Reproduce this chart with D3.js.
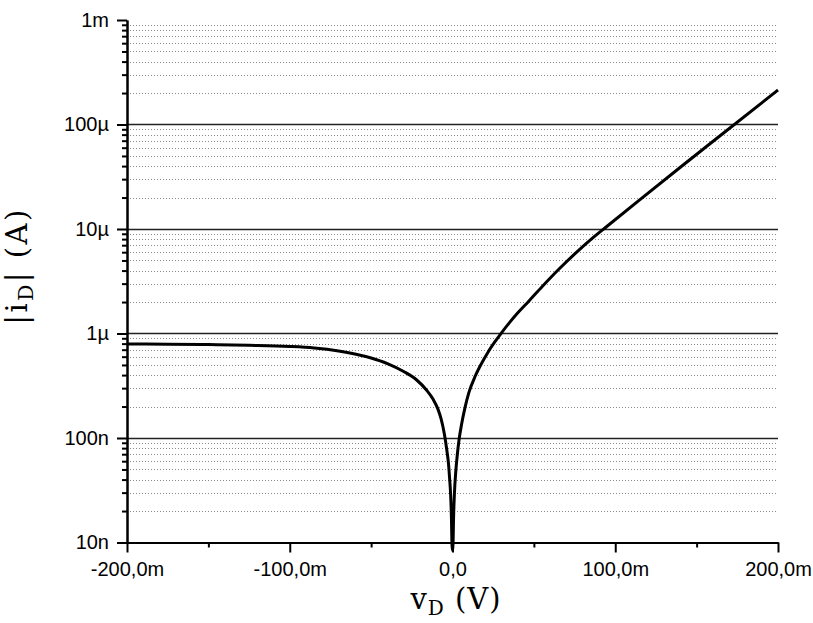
<!DOCTYPE html>
<html>
<head>
<meta charset="utf-8">
<script src="https://cdn.jsdelivr.net/npm/d3@7"></script>
<style>
  body { margin: 0; background: #fff; }
  svg { display: block; }
</style>
</head>
<body>
<div id="chart"></div>
<script>
// diode sweep: voltage (V) and |current| (A)
const vD = [-0.200, -0.175, -0.150, -0.125, -0.100, -0.085, -0.070, -0.060, -0.050, -0.040,
            -0.030, -0.022, -0.016, -0.012, -0.009, -0.007, -0.005, -0.0035, -0.0025, -0.0018,
            -0.0012, -0.0007, -0.0003, 0.0,
            0.0003, 0.0007, 0.0012, 0.002, 0.003, 0.004, 0.0055, 0.0075, 0.010, 0.014,
            0.018, 0.022, 0.026, 0.030, 0.035, 0.040, 0.047, 0.055, 0.065, 0.078,
            0.086, 0.0944, 0.115, 0.140, 0.165, 0.200];
const iD = [7.93e-7, 7.90e-7, 7.83e-7, 7.71e-7, 7.51e-7, 7.26e-7, 6.80e-7, 6.37e-7, 5.83e-7, 5.16e-7,
            4.33e-7, 3.59e-7, 2.88e-7, 2.36e-7, 1.90e-7, 1.52e-7, 1.09e-7, 7.68e-8, 5.77e-8, 4.14e-8,
            2.98e-8, 1.83e-8, 9.5e-9, 8.4e-9,
            9.5e-9, 1.83e-8, 2.98e-8, 4.73e-8, 7.03e-8, 9.57e-8, 1.33e-7, 1.90e-7, 2.70e-7, 3.92e-7,
            5.22e-7, 6.70e-7, 8.30e-7, 1.01e-6, 1.27e-6, 1.57e-6, 2.05e-6, 2.80e-6, 4.07e-6, 6.35e-6,
            8.17e-6, 1.045e-5, 1.90e-5, 3.90e-5, 7.93e-5, 2.14e-4];

const xTicks = [-0.2, -0.1, 0, 0.1, 0.2];
const xTickLabels = ['-200,0m', '-100,0m', '0,0', '100,0m', '200,0m'];
const xMinorTicks = [-0.15, -0.05, 0.05, 0.15];
const yTicks = [1e-8, 1e-7, 1e-6, 1e-5, 1e-4, 1e-3];
const yTickLabels = ['10n', '100n', '1µ', '10µ', '100µ', '1m'];

const width = 813, height = 623;
const plotL = 127, plotR = 778, plotT = 20, plotB = 542.5;

let x = d3.scaleLinear().domain([-0.2, 0.2]).range([plotL, plotR]);
let y = d3.scaleLog().domain([1e-8, 1e-3]).range([plotB, plotT]);

// minor decades 2..9
let yMinor = [];
yTicks.slice(0, -1).forEach(function(d) {
  for (let k = 2; k <= 9; k++) yMinor.push(d * k);
});

let svg = d3.select('#chart')
  .append('svg')
    .attr('width', width)
    .attr('height', height);

// grid
svg.append('g')
  .selectAll('line')
  .data(yMinor)
  .enter()
  .append('line')
    .attr('x1', plotL).attr('x2', plotR)
    .attr('y1', function(d) { return Math.round(y(d)) + 0.5 })
    .attr('y2', function(d) { return Math.round(y(d)) + 0.5 })
    .attr('stroke', '#8a8a8a')
    .attr('stroke-width', 1)
    .attr('stroke-dasharray', '1,2');

svg.append('g')
  .selectAll('line')
  .data(yTicks.slice(1, -1))
  .enter()
  .append('line')
    .attr('x1', plotL).attr('x2', plotR)
    .attr('y1', function(d) { return Math.round(y(d)) + 0.5 })
    .attr('y2', function(d) { return Math.round(y(d)) + 0.5 })
    .attr('stroke', '#222')
    .attr('stroke-width', 1.3);

// curve
let line = d3.line()
  .x(function(d) { return x(d[0]) })
  .y(function(d) { return y(d[1]) })
  .curve(d3.curveMonotoneX);

svg.append('path')
  .datum(vD.map(function(v, i) { return [v, iD[i]] }))
  .attr('d', line)
  .attr('fill', 'none')
  .attr('stroke', '#000')
  .attr('stroke-width', 3)
  .attr('stroke-linejoin', 'round');

// axes
function styleAxis(g) {
  g.selectAll('.domain').attr('stroke', '#000').attr('stroke-width', 2);
  g.selectAll('.tick line').attr('stroke', '#000').attr('stroke-width', 2);
  g.selectAll('text')
    .attr('fill', '#000')
    .style('font-family', '"Liberation Sans", Arial, sans-serif')
    .style('font-size', '20px');
}

svg.append('g')
  .attr('transform', `translate(${plotL},0)`)
  .call(d3.axisLeft(y).tickValues(yMinor).tickSize(5).tickSizeOuter(0).tickFormat(''))
  .call(styleAxis);

svg.append('g')
  .attr('transform', `translate(${plotL},0)`)
  .call(d3.axisLeft(y).tickValues(yTicks).tickSize(10).tickSizeOuter(0).tickPadding(8)
    .tickFormat(function(d, i) { return yTickLabels[i] }))
  .call(styleAxis);

svg.append('g')
  .attr('transform', `translate(0,${plotB})`)
  .call(d3.axisBottom(x).tickValues(xMinorTicks).tickSize(5).tickSizeOuter(0).tickFormat(''))
  .call(styleAxis);

svg.append('g')
  .attr('transform', `translate(0,${plotB})`)
  .call(d3.axisBottom(x).tickValues(xTicks).tickSize(10).tickSizeOuter(0).tickPadding(9)
    .tickFormat(function(d, i) { return xTickLabels[i] }))
  .call(styleAxis);

// axis titles
let titleFont = '"DejaVu Serif", "Liberation Serif", serif';

let xt = svg.append('text')
  .attr('x', 456).attr('y', 609)
  .attr('text-anchor', 'middle')
  .style('font-family', titleFont)
  .style('font-size', '29px')
  .style('letter-spacing', '1px');
xt.append('tspan').text('v');
xt.append('tspan').attr('dy', 6).style('font-size', '20px').text('D');
xt.append('tspan').attr('dy', -6).text(' (V)');

let yt = svg.append('text')
  .attr('transform', 'translate(27,266) rotate(-90)')
  .attr('text-anchor', 'middle')
  .style('font-family', titleFont)
  .style('font-size', '29px')
  .style('letter-spacing', '2.5px');
yt.append('tspan').text('|i');
yt.append('tspan').attr('dy', 6).style('font-size', '20px').text('D');
yt.append('tspan').attr('dy', -6).text('| (A)');
</script>
</body>
</html>
